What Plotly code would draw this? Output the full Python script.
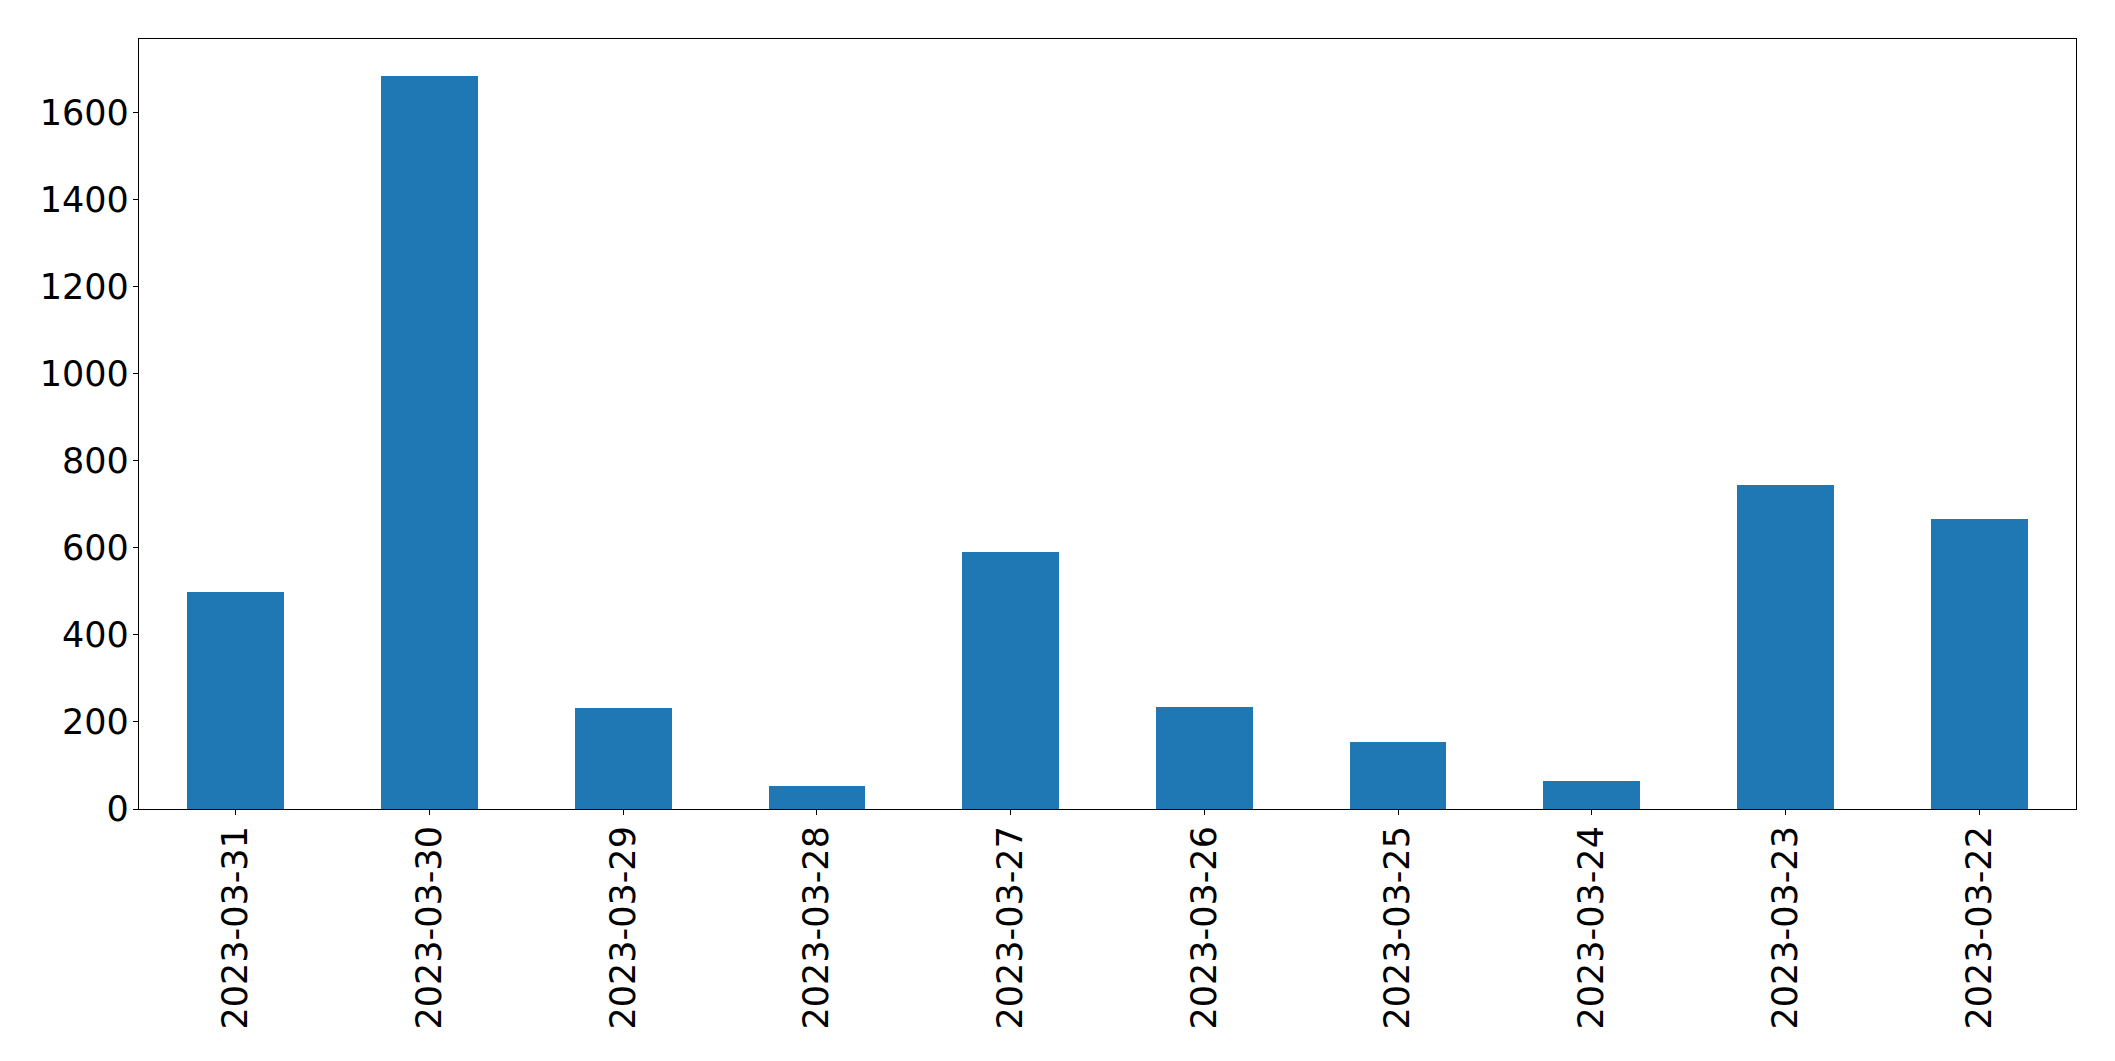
import plotly.graph_objects as go

dates = ["2023-03-31", "2023-03-30", "2023-03-29", "2023-03-28", "2023-03-27",
         "2023-03-26", "2023-03-25", "2023-03-24", "2023-03-23", "2023-03-22"]
counts = [498, 1684, 232, 53, 590, 235, 154, 65, 744, 665]
y_ticks = [0, 200, 400, 600, 800, 1000, 1200, 1400, 1600]

FONT = dict(family="DejaVu Sans", size=35, color="black")

fig = go.Figure(go.Bar(x=dates, y=counts, width=0.5, marker=dict(color="#1f77b4", line=dict(width=0))))

fig.update_layout(
    width=2115, height=1061, autosize=False,
    margin=dict(l=131, r=47, t=31, b=260),
    paper_bgcolor="white", plot_bgcolor="white",
    font=FONT, showlegend=False, bargap=0,
)
fig.update_xaxes(
    type="category", range=[-0.5, 9.5], tickangle=-90,
    showline=True, linecolor="black", linewidth=1.2, mirror=True,
    ticks="outside", ticklen=5, tickwidth=1.2, tickcolor="black",
    showgrid=False, zeroline=False, tickfont=FONT, ticklabelstandoff=-3,
)
fig.update_yaxes(
    range=[0, max(counts) * 1.05], tickvals=y_ticks,
    showline=True, linecolor="black", linewidth=1.2, mirror=True,
    ticks="outside", ticklen=5, tickwidth=1.2, tickcolor="black",
    showgrid=False, zeroline=False, tickfont=FONT, ticklabelstandoff=-3,
)

fig.write_html("out.html")
